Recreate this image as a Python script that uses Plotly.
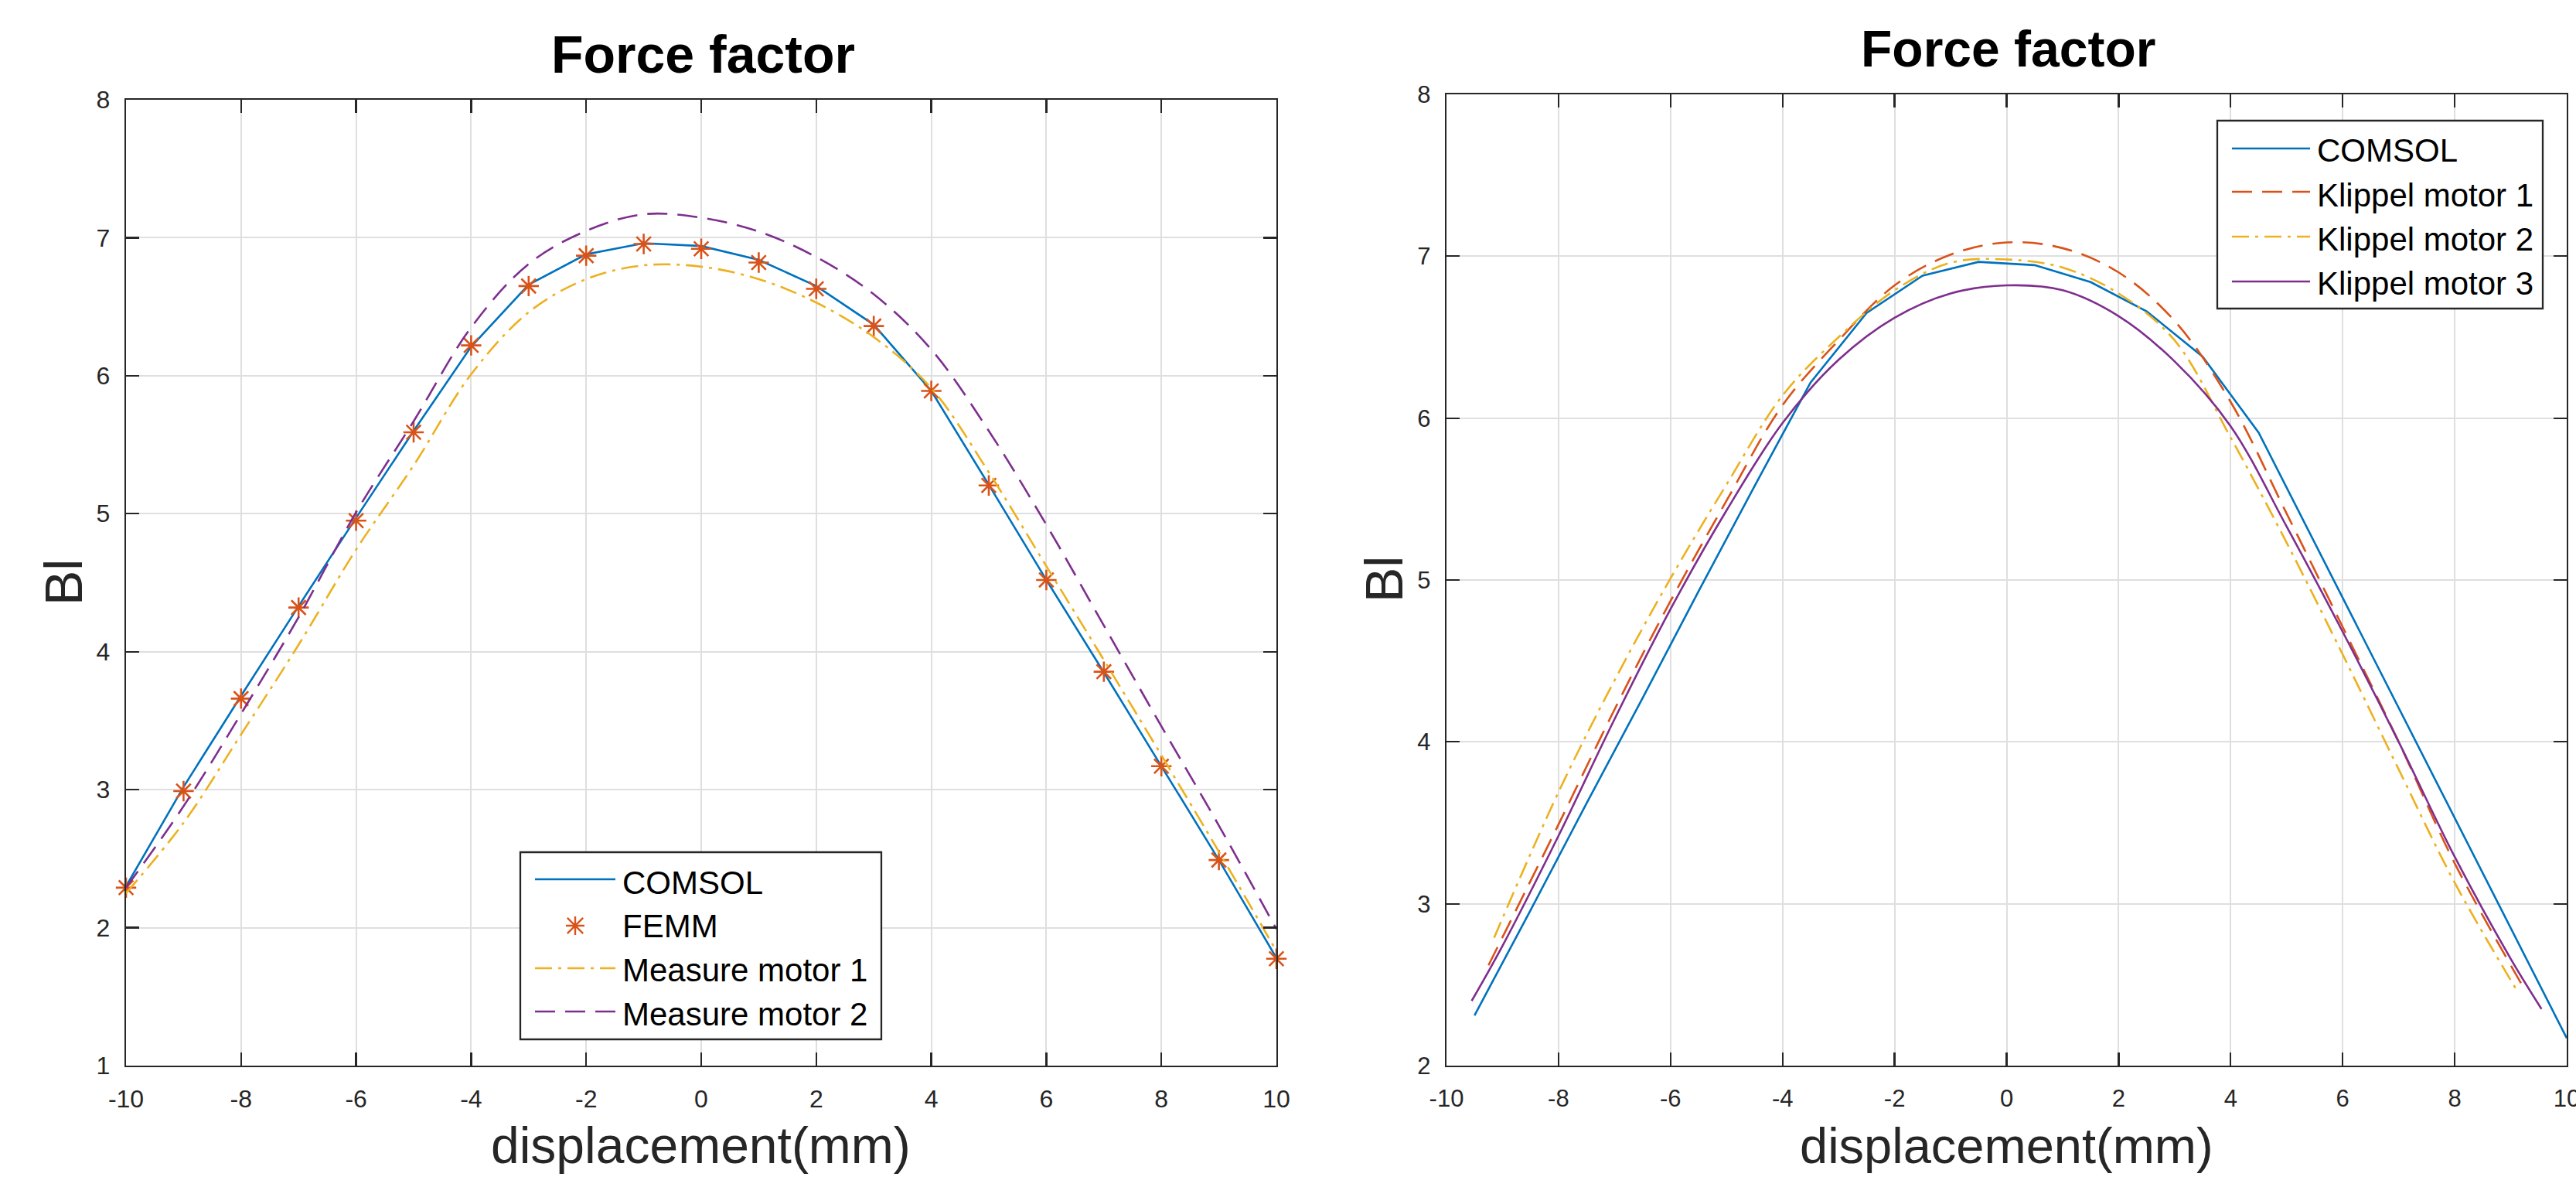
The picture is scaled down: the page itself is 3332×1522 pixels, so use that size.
import plotly.graph_objects as go

W, H = 3332, 1522

# ---------------- data: left panel ----------------
x_left = [-10, -9, -8, -7, -6, -5, -4, -3, -2, -1, 0, 1, 2, 3, 4, 5, 6, 7, 8, 9, 10]
comsol_left = [2.30, 3.02, 3.68, 4.33, 4.97, 5.60, 6.21, 6.66, 6.88, 6.96, 6.94,
               6.84, 6.65, 6.37, 5.89, 5.21, 4.52, 3.85, 3.17, 2.49, 1.78]
femm_left = [2.29, 2.99, 3.66, 4.32, 4.95, 5.59, 6.22, 6.65, 6.87, 6.955, 6.92,
             6.82, 6.63, 6.36, 5.89, 5.205, 4.52, 3.855, 3.17, 2.49, 1.775]
measure_motor_1 = [2.25, 2.76, 3.40, 4.05, 4.74, 5.35, 6.01, 6.46, 6.70, 6.80, 6.79,
                   6.70, 6.53, 6.28, 5.91, 5.30, 4.62, 3.94, 3.25, 2.55, 1.83]
measure_motor_2 = [2.29, 2.88, 3.55, 4.25, 5.01, 5.67, 6.35, 6.81, 7.05, 7.17, 7.145,
                   7.045, 6.86, 6.59, 6.19, 5.60, 4.92, 4.19, 3.46, 2.74, 1.99]

# ---------------- data: right panel ----------------
x_comsol_right = [-9.5, -8.5, -7.5, -6.5, -5.5, -4.5, -3.5, -2.5, -1.5, -0.5, 0.5,
                  1.5, 2.5, 3.5, 4.5, 5.5, 6.5, 7.5, 8.5, 9.5, 10]
comsol_right = [2.31, 2.96, 3.62, 4.27, 4.93, 5.58, 6.22, 6.65, 6.88, 6.965, 6.945,
                6.84, 6.66, 6.38, 5.91, 5.23, 4.55, 3.87, 3.19, 2.51, 2.17]

x_klippel_1 = [-9.25, -8, -7, -6, -5, -4, -3, -2, -1, 0, 1, 2, 3, 4, 5, 6, 7, 8, 9.25]
klippel_1 = [2.62, 3.49, 4.20, 4.87, 5.49, 6.08, 6.48, 6.82, 7.01, 7.085, 7.05,
             6.90, 6.60, 6.10, 5.41, 4.71, 4.00, 3.25, 2.47]

x_klippel_2 = [-9.15, -8, -7, -6, -5, -4, -3, -2, -1, 0, 1, 2, 3, 4, 5, 6, 7, 8, 9.1]
klippel_2 = [2.79, 3.69, 4.38, 5.01, 5.59, 6.14, 6.50, 6.79, 6.96, 6.98, 6.93,
             6.77, 6.48, 5.88, 5.23, 4.54, 3.83, 3.13, 2.47]

x_klippel_3 = [-9.55, -9, -8, -7, -6, -5, -4, -3, -2, -1, 0, 1, 2, 3, 4, 5, 6, 7, 8, 9, 9.55]
klippel_3 = [2.40, 2.74, 3.42, 4.14, 4.82, 5.43, 5.97, 6.36, 6.62, 6.77, 6.82, 6.79,
             6.63, 6.35, 5.95, 5.33, 4.68, 4.00, 3.29, 2.66, 2.35]

# ---------------- ticks & labels ----------------
x_tick_vals = [-10, -8, -6, -4, -2, 0, 2, 4, 6, 8, 10]
x_tick_text = ['-10', '-8', '-6', '-4', '-2', '0', '2', '4', '6', '8', '10']
y_left_ticks = [1, 2, 3, 4, 5, 6, 7, 8]
y_right_ticks = [2, 3, 4, 5, 6, 7, 8]
legend_left = ['COMSOL', 'FEMM', 'Measure motor 1', 'Measure motor 2']
legend_right = ['COMSOL', 'Klippel motor 1', 'Klippel motor 2', 'Klippel motor 3']
title_text = 'Force factor'
xlabel_text = 'displacement(mm)'
ylabel_text = 'Bl'

BLUE, ORANGE, YELLOW, PURPLE = '#0072BD', '#D95319', '#EDB120', '#7E2F8E'
AXC = '#262626'
FONT = 'Liberation Sans, Arial, Helvetica, sans-serif'
LW = 2.6
DASH = '26px,13px'
DASHDOT = '22px,8px,4px,8px'


def px(v):
    return v / W


def py(v):
    return 1 - v / H


fig = go.Figure()

# left traces
fig.add_trace(go.Scatter(x=x_left, y=comsol_left, mode='lines', name=legend_left[0],
                         line=dict(color=BLUE, width=LW), xaxis='x', yaxis='y'))
fig.add_trace(go.Scatter(x=x_left, y=femm_left, mode='markers', name=legend_left[1],
                         marker=dict(symbol='asterisk-open', size=22, color=ORANGE,
                                     line=dict(color=ORANGE, width=2.6)),
                         cliponaxis=False, xaxis='x', yaxis='y'))
fig.add_trace(go.Scatter(x=x_left, y=measure_motor_1, mode='lines', name=legend_left[2],
                         line=dict(color=YELLOW, width=LW, dash=DASHDOT, shape='spline'),
                         xaxis='x', yaxis='y'))
fig.add_trace(go.Scatter(x=x_left, y=measure_motor_2, mode='lines', name=legend_left[3],
                         line=dict(color=PURPLE, width=LW, dash=DASH, shape='spline'),
                         xaxis='x', yaxis='y'))

# right traces
fig.add_trace(go.Scatter(x=x_comsol_right, y=comsol_right, mode='lines', name=legend_right[0],
                         line=dict(color=BLUE, width=LW), xaxis='x2', yaxis='y2'))
fig.add_trace(go.Scatter(x=x_klippel_1, y=klippel_1, mode='lines', name=legend_right[1],
                         line=dict(color=ORANGE, width=LW, dash=DASH, shape='spline'),
                         xaxis='x2', yaxis='y2'))
fig.add_trace(go.Scatter(x=x_klippel_2, y=klippel_2, mode='lines', name=legend_right[2],
                         line=dict(color=YELLOW, width=LW, dash=DASHDOT, shape='spline'),
                         xaxis='x2', yaxis='y2'))
fig.add_trace(go.Scatter(x=x_klippel_3, y=klippel_3, mode='lines', name=legend_right[3],
                         line=dict(color=PURPLE, width=LW, shape='spline'),
                         xaxis='x2', yaxis='y2'))


def axis_style(size, standoff):
    return dict(showline=True, linecolor=AXC, linewidth=2.3, mirror='ticks',
                ticks='inside', ticklen=17, tickwidth=2.3, tickcolor=AXC,
                showgrid=True, gridcolor='#dfdfdf', gridwidth=2, zeroline=False,
                tickfont=dict(family=FONT, size=size, color=AXC),
                ticklabelstandoff=standoff, ticklabeloverflow='allow',
                fixedrange=True, automargin=False)


# plot boxes in pixels
L_BOX = (163, 1651, 129, 1378)
R_BOX = (1871, 3320, 122, 1378)

fig.update_layout(
    width=W, height=H,
    margin=dict(l=0, r=0, t=0, b=0, pad=0, autoexpand=False),
    paper_bgcolor='white', plot_bgcolor='white',
    showlegend=False,
    xaxis=dict(domain=[px(L_BOX[0]), px(L_BOX[1])], range=[-10, 10],
               tickvals=x_tick_vals, ticktext=x_tick_text, anchor='y',
               **axis_style(32, 13)),
    yaxis=dict(domain=[py(L_BOX[3]), py(L_BOX[2])], range=[1, 8],
               tickvals=y_left_ticks, ticktext=[str(v) for v in y_left_ticks], anchor='x',
               **axis_style(32, 12)),
    xaxis2=dict(domain=[px(R_BOX[0]), px(R_BOX[1])], range=[-10, 10],
                tickvals=x_tick_vals, ticktext=x_tick_text, anchor='y2',
                **axis_style(31, 13)),
    yaxis2=dict(domain=[py(R_BOX[3]), py(R_BOX[2])], range=[2, 8],
                tickvals=y_right_ticks, ticktext=[str(v) for v in y_right_ticks], anchor='x2',
                **axis_style(31, 12)),
)

annotations = []
shapes = []


def text(x, y, s, size, color='black', xanchor='center', angle=0):
    annotations.append(dict(x=px(x), y=py(y), xref='paper', yref='paper', text=s,
                            showarrow=False, xanchor=xanchor, yanchor='middle',
                            textangle=angle,
                            font=dict(family=FONT, size=size, color=color)))


# titles and axis labels
text(909, 70, '<b>' + title_text + '</b>', 68)
text(2597, 63, '<b>' + title_text + '</b>', 66)
text(906, 1481, xlabel_text, 66, AXC)
text(2595, 1481, xlabel_text, 65, AXC)
text(82, 753, ylabel_text, 68, AXC, angle=-90)
text(1790, 749, ylabel_text, 68, AXC, angle=-90)


def legend_box(x0, x1, y0, y1):
    shapes.append(dict(type='rect', xref='paper', yref='paper', layer='above',
                       x0=px(x0), x1=px(x1), y0=py(y1), y1=py(y0),
                       line=dict(color=AXC, width=2.3), fillcolor='white'))


def legend_line(x0, x1, y, color, dash='solid'):
    shapes.append(dict(type='line', xref='paper', yref='paper', layer='above',
                       x0=px(x0), x1=px(x1), y0=py(y), y1=py(y),
                       line=dict(color=color, width=LW, dash=dash)))


def legend_star(cx, cy, r, color):
    d = r * 0.85
    path = (f"M {px(cx - r)},{py(cy)} L {px(cx + r)},{py(cy)} "
            f"M {px(cx)},{py(cy - r)} L {px(cx)},{py(cy + r)} "
            f"M {px(cx - d)},{py(cy - d)} L {px(cx + d)},{py(cy + d)} "
            f"M {px(cx - d)},{py(cy + d)} L {px(cx + d)},{py(cy - d)}")
    shapes.append(dict(type='path', xref='paper', yref='paper', layer='above', path=path,
                       line=dict(color=color, width=2.4)))


# left legend
legend_box(673, 1140, 1102, 1344)
legend_line(692, 796, 1137, BLUE)
legend_star(744, 1197, 12, ORANGE)
legend_line(692, 796, 1252, YELLOW, DASHDOT)
legend_line(692, 796, 1308, PURPLE, DASH)
for label, yy in zip(legend_left, [1141, 1197, 1254, 1311]):
    text(803, yy, label, 42, 'black', xanchor='left')

# right legend
legend_box(2868, 3289, 156, 399)
legend_line(2887, 2988, 192, BLUE)
legend_line(2887, 2988, 248, ORANGE, DASH)
legend_line(2887, 2988, 306, YELLOW, DASHDOT)
legend_line(2887, 2988, 364, PURPLE)
for label, yy in zip(legend_right, [194, 252, 309, 366]):
    text(2995, yy, label, 42, 'black', xanchor='left')

fig.update_layout(annotations=annotations, shapes=shapes)

fig.write_html('out.html',
               config={'displayModeBar': False, 'staticPlot': True},
               post_script="document.body.style.margin='0';document.body.style.overflow='hidden';")
